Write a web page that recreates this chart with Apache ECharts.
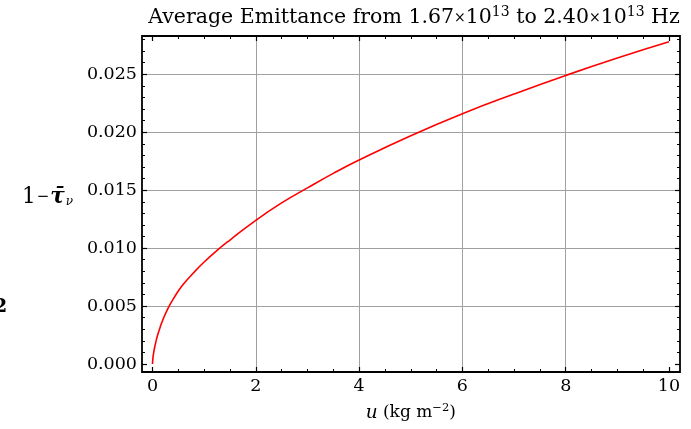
<!DOCTYPE html>
<html>
<head>
<meta charset="utf-8">
<script src="https://cdn.jsdelivr.net/npm/echarts@6/dist/echarts.min.js"></script>
<style>
html,body{margin:0;padding:0;background:#fff;}
#chart{width:691px;height:429px;}
</style>
</head>
<body>
<div id="chart"></div>
<script>
// ---- data ----
var uValues = [0, 0.01, 0.02, 0.04, 0.07, 0.1, 0.15, 0.2, 0.3, 0.4, 0.5, 0.6, 0.8, 1.0, 1.25, 1.5, 2.0, 2.5, 3.0, 3.5, 4.0, 5.0, 6.0, 7.0, 8.0, 9.0, 10.0];
var emittance = [0, 0.0006, 0.0009, 0.0014, 0.0020, 0.0025, 0.0032, 0.0038, 0.0048, 0.0056, 0.0063, 0.0069, 0.0079, 0.0088, 0.0098, 0.0107, 0.0124, 0.0139, 0.0152, 0.01645, 0.0176, 0.0197, 0.0216, 0.0233, 0.0249, 0.0264, 0.0278];
var xTickLabels = ['0', '2', '4', '6', '8', '10'];
var yTickLabels = ['0.000', '0.005', '0.010', '0.015', '0.020', '0.025'];

var FONT = 'DejaVu Serif';
var chart = echarts.init(document.getElementById('chart'), null, {renderer: 'canvas'});

var points = uValues.map(function (u, i) { return [u, emittance[i]]; });

// layout (pixels)
var frameL = 142, frameR = 680, frameT = 36, frameB = 372;
var x0 = 152.5, x10 = 669;          // pixel of u=0 and u=10
var y0 = 364, y025 = 74.3;          // pixel of 0 and 0.025
var pxPerU = (x10 - x0) / 10;
var pxPerY = (y0 - y025) / 0.025;

var frameXMin = -(x0 - frameL) / pxPerU;
var frameXMax = 10 + (frameR - x10) / pxPerU;
var frameYMin = -(frameB - y0) / pxPerY;
var frameYMax = (y0 - frameT) / pxPerY;

var black = '#000';
var gridGray = '#a0a0a0';

function hiddenAxis(extra) {
  return Object.assign({
    type: 'value', show: true,
    axisLine: {show: false}, axisTick: {show: false}, axisLabel: {show: false}, splitLine: {show: false}
  }, extra);
}

var option = {
  animation: false,
  backgroundColor: '#fff',
  title: {
    text: 'Average Emittance from 1.67{x|×}10{s|13} to 2.40{x|×}10{s|13} Hz',
    left: 409, top: 0, textAlign: 'center',
    textStyle: {
      fontFamily: FONT, fontSize: 20.5, fontWeight: 'normal', color: black,
      rich: {
        x: {fontFamily: FONT, fontSize: 14, color: black},
        s: {fontFamily: FONT, fontSize: 14, color: black, padding: [0, 0, 12, 0]}
      }
    }
  },
  grid: [
    {left: frameL, top: frameT, width: frameR - frameL, height: frameB - frameT, show: true, borderColor: black, borderWidth: 1.8, backgroundColor: 'transparent', containLabel: false},
    {left: x0, top: frameT, width: x10 - x0, height: frameB - frameT, containLabel: false},
    {left: frameL, top: y025, width: frameR - frameL, height: y0 - y025, containLabel: false},
    {left: frameL, top: y0 - 0.028 * pxPerY, width: frameR - frameL, height: 0.028 * pxPerY, containLabel: false}
  ],
  xAxis: [
    hiddenAxis({gridIndex: 0, min: frameXMin, max: frameXMax}),
    {
      type: 'value', gridIndex: 1, position: 'bottom', min: 0, max: 10, interval: 2,
      axisLine: {show: false},
      axisTick: {show: true, inside: true, length: 5, lineStyle: {color: black, width: 1.2}},
      minorTick: {show: true, splitNumber: 4, length: 3, lineStyle: {color: black, width: 1}},
      axisLabel: {show: true, margin: 5, fontFamily: FONT, fontSize: 17.5, color: black,
        formatter: function (v) { return xTickLabels[Math.round(v / 2)]; }},
      splitLine: {show: true, showMinLine: false, showMaxLine: false, lineStyle: {color: gridGray, width: 1}},
      name: '{i|u} (kg m{s|−2})', nameLocation: 'middle', nameGap: 30,
      nameTextStyle: {fontFamily: FONT, fontSize: 17, color: black,
        rich: {i: {fontFamily: FONT, fontStyle: 'italic', fontSize: 18.5, color: black},
               s: {fontFamily: FONT, fontSize: 11.5, color: black, padding: [0, 0, 10, 0]}}}
    },
    {
      type: 'value', gridIndex: 1, position: 'top', min: 0, max: 10, interval: 2,
      axisLine: {show: false},
      axisTick: {show: true, inside: true, length: 5, lineStyle: {color: black, width: 1.2}},
      minorTick: {show: true, splitNumber: 4, length: 3, lineStyle: {color: black, width: 1}},
      axisLabel: {show: false}, splitLine: {show: false}
    },
    hiddenAxis({gridIndex: 2, min: 0, max: 1}),
    hiddenAxis({gridIndex: 3, min: 0, max: 1})
  ],
  yAxis: [
    hiddenAxis({gridIndex: 0, min: frameYMin, max: frameYMax}),
    hiddenAxis({gridIndex: 1, min: 0, max: 1}),
    {
      type: 'value', gridIndex: 2, position: 'left', min: 0, max: 0.025, interval: 0.005,
      axisLine: {show: false},
      axisTick: {show: true, inside: true, length: 5, lineStyle: {color: black, width: 1.2}},
      axisLabel: {show: true, margin: 5, fontFamily: FONT, fontSize: 17.5, color: black,
        formatter: function (v) { return yTickLabels[Math.round(v / 0.005)]; }},
      splitLine: {show: true, showMinLine: false, showMaxLine: true, lineStyle: {color: gridGray, width: 1}}
    },
    {
      type: 'value', gridIndex: 2, position: 'right', min: 0, max: 0.025, interval: 0.005,
      axisLine: {show: false},
      axisTick: {show: true, inside: true, length: 5, lineStyle: {color: black, width: 1.2}},
      axisLabel: {show: false}, splitLine: {show: false}
    },
    {
      type: 'value', gridIndex: 3, position: 'left', min: 0, max: 0.028, interval: 0.001,
      axisLine: {show: false},
      axisTick: {show: true, inside: true, length: 3, lineStyle: {color: black, width: 1}},
      axisLabel: {show: false}, splitLine: {show: false}
    },
    {
      type: 'value', gridIndex: 3, position: 'right', min: 0, max: 0.028, interval: 0.001,
      axisLine: {show: false},
      axisTick: {show: true, inside: true, length: 3, lineStyle: {color: black, width: 1}},
      axisLabel: {show: false}, splitLine: {show: false}
    }
  ],
  graphic: [
    {
      type: 'text', left: 22, top: 186, silent: true,
      style: {
        text: '1{m|−}{t|τ̄}{n|ν}',
        fontFamily: FONT, fontSize: 21.5, fill: black,
        rich: {
          m: {fontFamily: FONT, fontSize: 15, fill: black, padding: [0, 1, 0, 1]},
          t: {fontFamily: FONT, fontSize: 21.5, fontStyle: 'italic', fontWeight: 'bold', fill: black},
          n: {fontFamily: FONT, fontSize: 12, fontStyle: 'italic', fill: black, padding: [9, 0, 0, 1]}
        }
      }
    },
    {
      type: 'text', left: -6, top: 298, silent: true,
      style: {text: '2', fontFamily: FONT, fontSize: 19, fontWeight: 'bold', fill: black}
    }
  ],
  series: [{
    type: 'line', xAxisIndex: 0, yAxisIndex: 0,
    data: points, showSymbol: false, smooth: 0.5,
    lineStyle: {color: '#ff0000', width: 1.6},
    silent: true
  }]
};
chart.setOption(option);
</script>
</body>
</html>
